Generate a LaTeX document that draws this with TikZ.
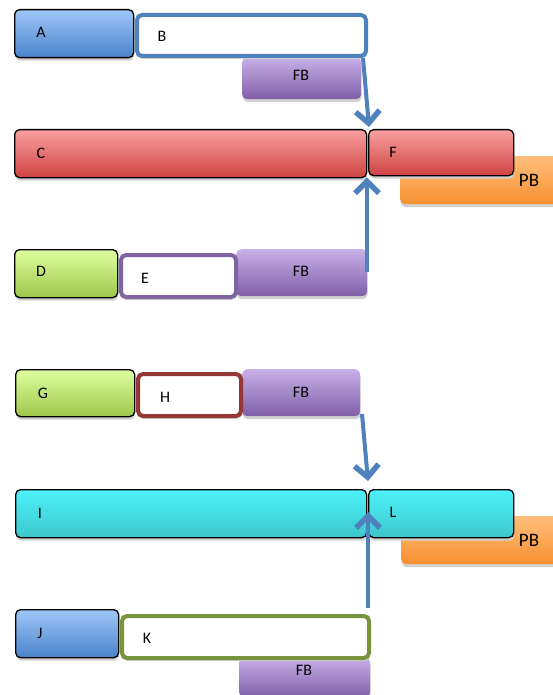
\documentclass[tikz,border=0pt]{standalone}
\usepackage{fontspec}
\setmainfont{Carlito}
\usetikzlibrary{arrows.meta,shadows}
\definecolor{blueT}{HTML}{A0C6F8}
\definecolor{blueB}{HTML}{4A83CB}
\definecolor{redT}{HTML}{F9A0A0}
\definecolor{redB}{HTML}{CF4343}
\definecolor{greenT}{HTML}{E0FFA0}
\definecolor{greenB}{HTML}{9CC64A}
\definecolor{purpT}{HTML}{C8B0E8}
\definecolor{purpB}{HTML}{7F5FA8}
\definecolor{cyanT}{HTML}{4DF2FA}
\definecolor{cyanB}{HTML}{3DC6CC}
\definecolor{orT}{HTML}{FFBE7A}
\definecolor{orB}{HTML}{F79130}
\definecolor{lineblue}{HTML}{4F81BD}
\definecolor{linepurple}{HTML}{8064A2}
\definecolor{linered}{HTML}{953735}
\definecolor{linegreen}{HTML}{77933C}
\begin{document}
\begin{tikzpicture}[x=1pt,y=-1pt,
  base/.style={rectangle, rounded corners=5pt, anchor=north west, inner sep=0pt,
    drop shadow={shadow xshift=0.5pt, shadow yshift=-3pt, fill=black!18, opacity=1}},
  bluebox/.style={base, draw=black, line width=1.3pt, top color=blueT, bottom color=blueB},
  redbox/.style={base, draw=black, line width=1.3pt, top color=redT, bottom color=redB},
  greenbox/.style={base, draw=black, line width=1.3pt, top color=greenT, bottom color=greenB},
  cyanbox/.style={base, draw=black, line width=1.3pt, top color=cyanT, bottom color=cyanB},
  fbbox/.style={base, top color=purpT, bottom color=purpB},
  pbbox/.style={base, top color=orT, bottom color=orB},
  openbox/.style={base, fill=white, line width=4pt},
  lbl/.style={font=\fontsize{16}{19}\selectfont, inner sep=0pt},
  biglbl/.style={font=\fontsize{19}{22}\selectfont, inner sep=0pt},
  arr/.style={draw=lineblue, line width=4pt,
    -{Straight Barb[length=12pt, width=24pt, line width=5.5pt]}}
]
\useasboundingbox (0,0) rectangle (553,695);

% ---- first group ----
\node[fbbox, minimum width=119pt, minimum height=42pt] (FB1) at (242,57) {};
\node[bluebox, minimum width=119pt, minimum height=48pt] (A) at (14,9) {};
\node[openbox, draw=lineblue, minimum width=229pt, minimum height=41pt] (B) at (135,13) {};
\node[pbbox, minimum width=160pt, minimum height=48pt] (PB1) at (400,156) {};
\node[redbox, minimum width=352pt, minimum height=48pt] (C) at (14,129) {};
\node[redbox, minimum width=145pt, minimum height=46pt] (F) at (368,129) {};
\node[fbbox, minimum width=131pt, minimum height=47pt] (FB2) at (236,249) {};
\node[greenbox, minimum width=103pt, minimum height=48pt] (D) at (14,249) {};
\node[openbox, draw=linepurple, minimum width=115pt, minimum height=42pt] (E) at (119,253) {};

\node[lbl] (tA) at (41,32) {A};
\node[lbl] (tB) at (162,36) {B};
\node[lbl] (tFB1) at (301,75) {FB};
\node[lbl] (tC) at (41,153) {C};
\node[lbl] (tF) at (393,152) {F};
\node[biglbl] (tPB1) at (529,180) {PB};
\node[lbl] (tD) at (41,271) {D};
\node[lbl] (tE) at (145,278) {E};
\node[lbl] (tFB2) at (301,271) {FB};

\coordinate (s1) at (363,58);
\coordinate (s2) at (367,272);
\draw[arr] (s1) -- ([shift={(1,-2)}]F.north west);
\draw[arr] (s2) -- ([shift={(-1,1)}]F.south west);

% ---- second group ----
\node[fbbox, minimum width=118pt, minimum height=47pt] (FB3) at (242,369) {};
\node[greenbox, minimum width=119pt, minimum height=47pt] (G) at (15,369) {};
\node[openbox, draw=linered, minimum width=103pt, minimum height=42pt] (H) at (136,372) {};
\node[pbbox, minimum width=160pt, minimum height=48pt] (PB2) at (401,516) {};
\node[cyanbox, minimum width=351pt, minimum height=48pt] (I) at (15,489) {};
\node[cyanbox, minimum width=145pt, minimum height=48pt] (L) at (368,489) {};
\node[fbbox, minimum width=131pt, minimum height=40pt] (FB4) at (239,657) {};
\node[bluebox, minimum width=103pt, minimum height=48pt] (J) at (15,609) {};
\node[openbox, draw=linegreen, minimum width=247pt, minimum height=42pt] (K) at (120,614) {};

\node[lbl] (tG) at (43,393) {G};
\node[lbl] (tH) at (165,397) {H};
\node[lbl] (tFB3) at (301,392) {FB};
\node[lbl] (tI) at (40,513) {I};
\node[lbl] (tL) at (393,512) {L};
\node[biglbl] (tPB2) at (529,540) {PB};
\node[lbl] (tJ) at (40,633) {J};
\node[lbl] (tK) at (147,638) {K};
\node[lbl] (tFB4) at (304,670) {FB};

\coordinate (s3) at (362,414);
\coordinate (e3) at (368,481);
\coordinate (s4) at (368,608);
\coordinate (e4) at (368,512);
\draw[arr] (s3) -- (e3);
\draw[arr] (s4) -- (e4);
\end{tikzpicture}
\end{document}
